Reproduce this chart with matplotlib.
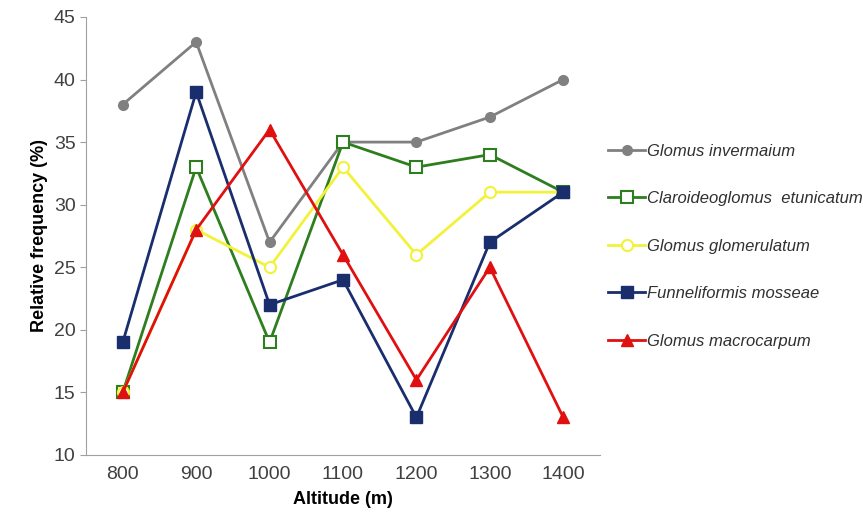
import matplotlib
matplotlib.use("Agg")
import matplotlib.pyplot as plt

plt.rcParams['font.family'] = ['Liberation Sans', 'DejaVu Sans']

# Datos
altitudes = ['800', '900', '1000', '1100', '1200', '1300', '1400']
glomus_invermaium = [38, 43, 27, 35, 35, 37, 40]
claroideoglomus_etunicatum = [15, 33, 19, 35, 33, 34, 31]
glomus_glomerulatum = [15, 28, 25, 33, 26, 31, 31]
funneliformis_mosseae = [19, 39, 22, 24, 13, 27, 31]
glomus_macrocarpum = [15, 28, 36, 26, 16, 25, 13]

fig = plt.figure(figsize=(8.63, 5.24), dpi=100)
ax = fig.add_axes([0.0997, 0.1317, 0.5955, 0.836])

x = range(len(altitudes))
ax.plot(x, glomus_invermaium, '-o', color='#808080', lw=2, ms=7,
        label='Glomus invermaium')
ax.plot(x, claroideoglomus_etunicatum, '-s', color='#2e7d1e', lw=2, ms=8,
        mfc='white', mew=1.5, label='Claroideoglomus  etunicatum')
ax.plot(x, glomus_glomerulatum, '-o', color='#f2f23a', lw=2, ms=8,
        mfc='white', mew=1.5, label='Glomus glomerulatum')
ax.plot(x, funneliformis_mosseae, '-s', color='#1a2e6e', lw=2, ms=8,
        label='Funneliformis mosseae')
ax.plot(x, glomus_macrocarpum, '-^', color='#e01010', lw=2, ms=8,
        label='Glomus macrocarpum')

ax.set_xlim(-0.5, len(altitudes) - 0.5)
ax.set_ylim(10, 45)
ax.set_yticks(range(10, 46, 5))
ax.set_xticks(list(x))
ax.set_xticklabels(altitudes)
ax.tick_params(labelsize=14, colors='#404040', length=4, color='#a0a0a0')
ax.tick_params(axis='x', length=0, pad=8)
for s in ['top', 'right']:
    ax.spines[s].set_visible(False)
for s in ['left', 'bottom']:
    ax.spines[s].set_color('#a0a0a0')

ax.set_xlabel('Altitude (m)', fontsize=13, fontweight='bold', labelpad=6)
ax.set_ylabel('Relative frequency (%)', fontsize=13, fontweight='bold')

leg = ax.legend(loc='center left', bbox_to_anchor=(1.0, 0.477), frameon=False,
                prop={'style': 'italic', 'size': 12}, labelspacing=1.95,
                handlelength=2.2, handletextpad=0.1, borderaxespad=0.1)
for t in leg.get_texts():
    t.set_color('#303030')

fig.savefig('out.png', dpi=100)
